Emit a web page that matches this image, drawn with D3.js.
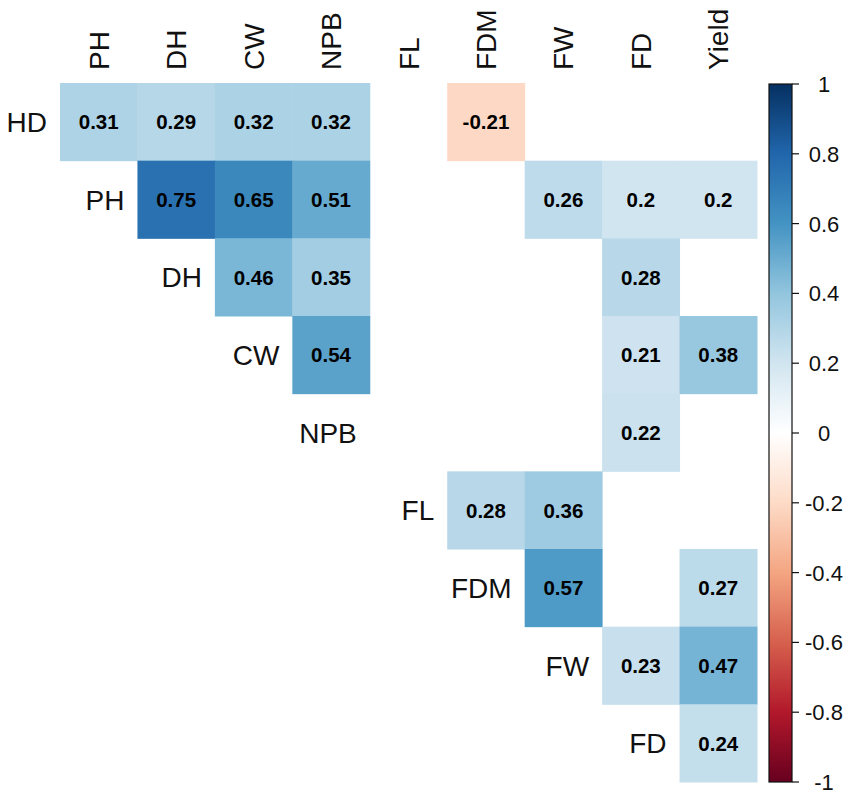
<!DOCTYPE html>
<html>
<head>
<meta charset="utf-8">
<script src="https://cdn.jsdelivr.net/npm/d3@7"></script>
<style>
  body { margin: 0; background: #fff; }
  text { font-family: "Liberation Sans", Arial, sans-serif; }
</style>
</head>
<body>
<div id="chart"></div>
<script>
var svgWidth = 850;
var svgHeight = 799;

// variables
var rowVars = ["HD", "PH", "DH", "CW", "NPB", "FL", "FDM", "FW", "FD"];
var colVars = ["PH", "DH", "CW", "NPB", "FL", "FDM", "FW", "FD", "Yield"];

// significant correlations only (null = blank)
var corrHD  = [0.31, 0.29, 0.32, 0.32, null, -0.21, null, null, null];
var corrPH  = [null, 0.75, 0.65, 0.51, null, null, 0.26, 0.2, 0.2];
var corrDH  = [null, null, 0.46, 0.35, null, null, null, 0.28, null];
var corrCW  = [null, null, null, 0.54, null, null, null, 0.21, 0.38];
var corrNPB = [null, null, null, null, null, null, null, 0.22, null];
var corrFL  = [null, null, null, null, null, 0.28, 0.36, null, null];
var corrFDM = [null, null, null, null, null, null, 0.57, null, 0.27];
var corrFW  = [null, null, null, null, null, null, null, 0.23, 0.47];
var corrFD  = [null, null, null, null, null, null, null, null, 0.24];

var corrRows = [corrHD, corrPH, corrDH, corrCW, corrNPB, corrFL, corrFDM, corrFW, corrFD];

var legendTicks = [1, 0.8, 0.6, 0.4, 0.2, 0, -0.2, -0.4, -0.6, -0.8, -1];

// corrplot RdBu palette
var paletteColors = ["#67001F", "#B2182B", "#D6604D", "#F4A582", "#FDDBC7", "#FFFFFF",
                     "#D1E5F0", "#92C5DE", "#4393C3", "#2166AC", "#053061"];

var gridLeft = 60, gridTop = 83, gridRight = 757, gridBottom = 782;

var svg = d3.select("#chart")
  .append("svg")
  .attr("width", svgWidth)
  .attr("height", svgHeight);

var xScale = d3.scaleBand()
  .domain(colVars)
  .range([gridLeft, gridRight]);

var yScale = d3.scaleBand()
  .domain(rowVars)
  .range([gridTop, gridBottom]);

var colorScale = d3.scaleLinear()
  .domain(d3.range(11).map(i => -1 + i * 0.2))
  .range(paletteColors);

// flatten to cells
var cells = [];
corrRows.forEach(function(row, i) {
  row.forEach(function(v, j) {
    if (v !== null) cells.push({ row: rowVars[i], col: colVars[j], value: v });
  });
});

// tiles
svg.append("g").selectAll("rect")
  .data(cells)
  .enter()
  .append("rect")
  .attr("x", d => xScale(d.col))
  .attr("y", d => yScale(d.row))
  .attr("width", xScale.bandwidth() + 0.5)
  .attr("height", yScale.bandwidth() + 0.5)
  .attr("fill", d => colorScale(d.value));

// cell values
svg.append("g").selectAll("text")
  .data(cells)
  .enter()
  .append("text")
  .attr("x", d => xScale(d.col) + xScale.bandwidth() / 2)
  .attr("y", d => yScale(d.row) + yScale.bandwidth() / 2)
  .attr("dy", "0.36em")
  .attr("text-anchor", "middle")
  .attr("font-size", "20.5px")
  .attr("font-weight", "bold")
  .attr("fill", "#000")
  .text(d => d.value);

// column labels (rotated)
svg.append("g").selectAll("text")
  .data(colVars)
  .enter()
  .append("text")
  .attr("transform", d => `translate(${xScale(d) + xScale.bandwidth() / 2 + 10}, 70) rotate(-90)`)
  .attr("font-size", "28px")
  .attr("fill", "#111")
  .text(d => d);

// row labels, placed on the diagonal
svg.append("g").selectAll("text")
  .data(rowVars)
  .enter()
  .append("text")
  .attr("x", (d, i) => (i === 0 ? gridLeft : xScale(colVars[i - 1]) + xScale.bandwidth()) - 13)
  .attr("y", d => yScale(d) + yScale.bandwidth() / 2)
  .attr("dy", "0.36em")
  .attr("text-anchor", "end")
  .attr("font-size", "28px")
  .attr("fill", "#111")
  .text(d => d);

// colour legend
var barLeft = 769, barWidth = 23;
var legendScale = d3.scaleLinear().domain([-1, 1]).range([782, 84]);

var grad = svg.append("defs").append("linearGradient")
  .attr("id", "corrGrad")
  .attr("x1", "0").attr("y1", "1").attr("x2", "0").attr("y2", "0");

grad.selectAll("stop")
  .data(paletteColors)
  .enter()
  .append("stop")
  .attr("offset", (d, i) => i / (paletteColors.length - 1))
  .attr("stop-color", d => d);

svg.append("rect")
  .attr("x", barLeft)
  .attr("y", legendScale(1))
  .attr("width", barWidth)
  .attr("height", legendScale(-1) - legendScale(1))
  .attr("fill", "url(#corrGrad)")
  .attr("stroke", "#111")
  .attr("stroke-width", 1.2);

var legendAxis = svg.append("g");
legendAxis.selectAll("line")
  .data(legendTicks)
  .enter()
  .append("line")
  .attr("x1", barLeft + barWidth)
  .attr("x2", barLeft + barWidth + 7)
  .attr("y1", d => legendScale(d))
  .attr("y2", d => legendScale(d))
  .attr("stroke", "#111")
  .attr("stroke-width", 1.2);

legendAxis.selectAll("text")
  .data(legendTicks)
  .enter()
  .append("text")
  .attr("x", 824)
  .attr("y", d => legendScale(d))
  .attr("dy", "0.36em")
  .attr("text-anchor", "middle")
  .attr("font-size", "22px")
  .attr("fill", "#111")
  .text(d => d);
</script>
</body>
</html>
